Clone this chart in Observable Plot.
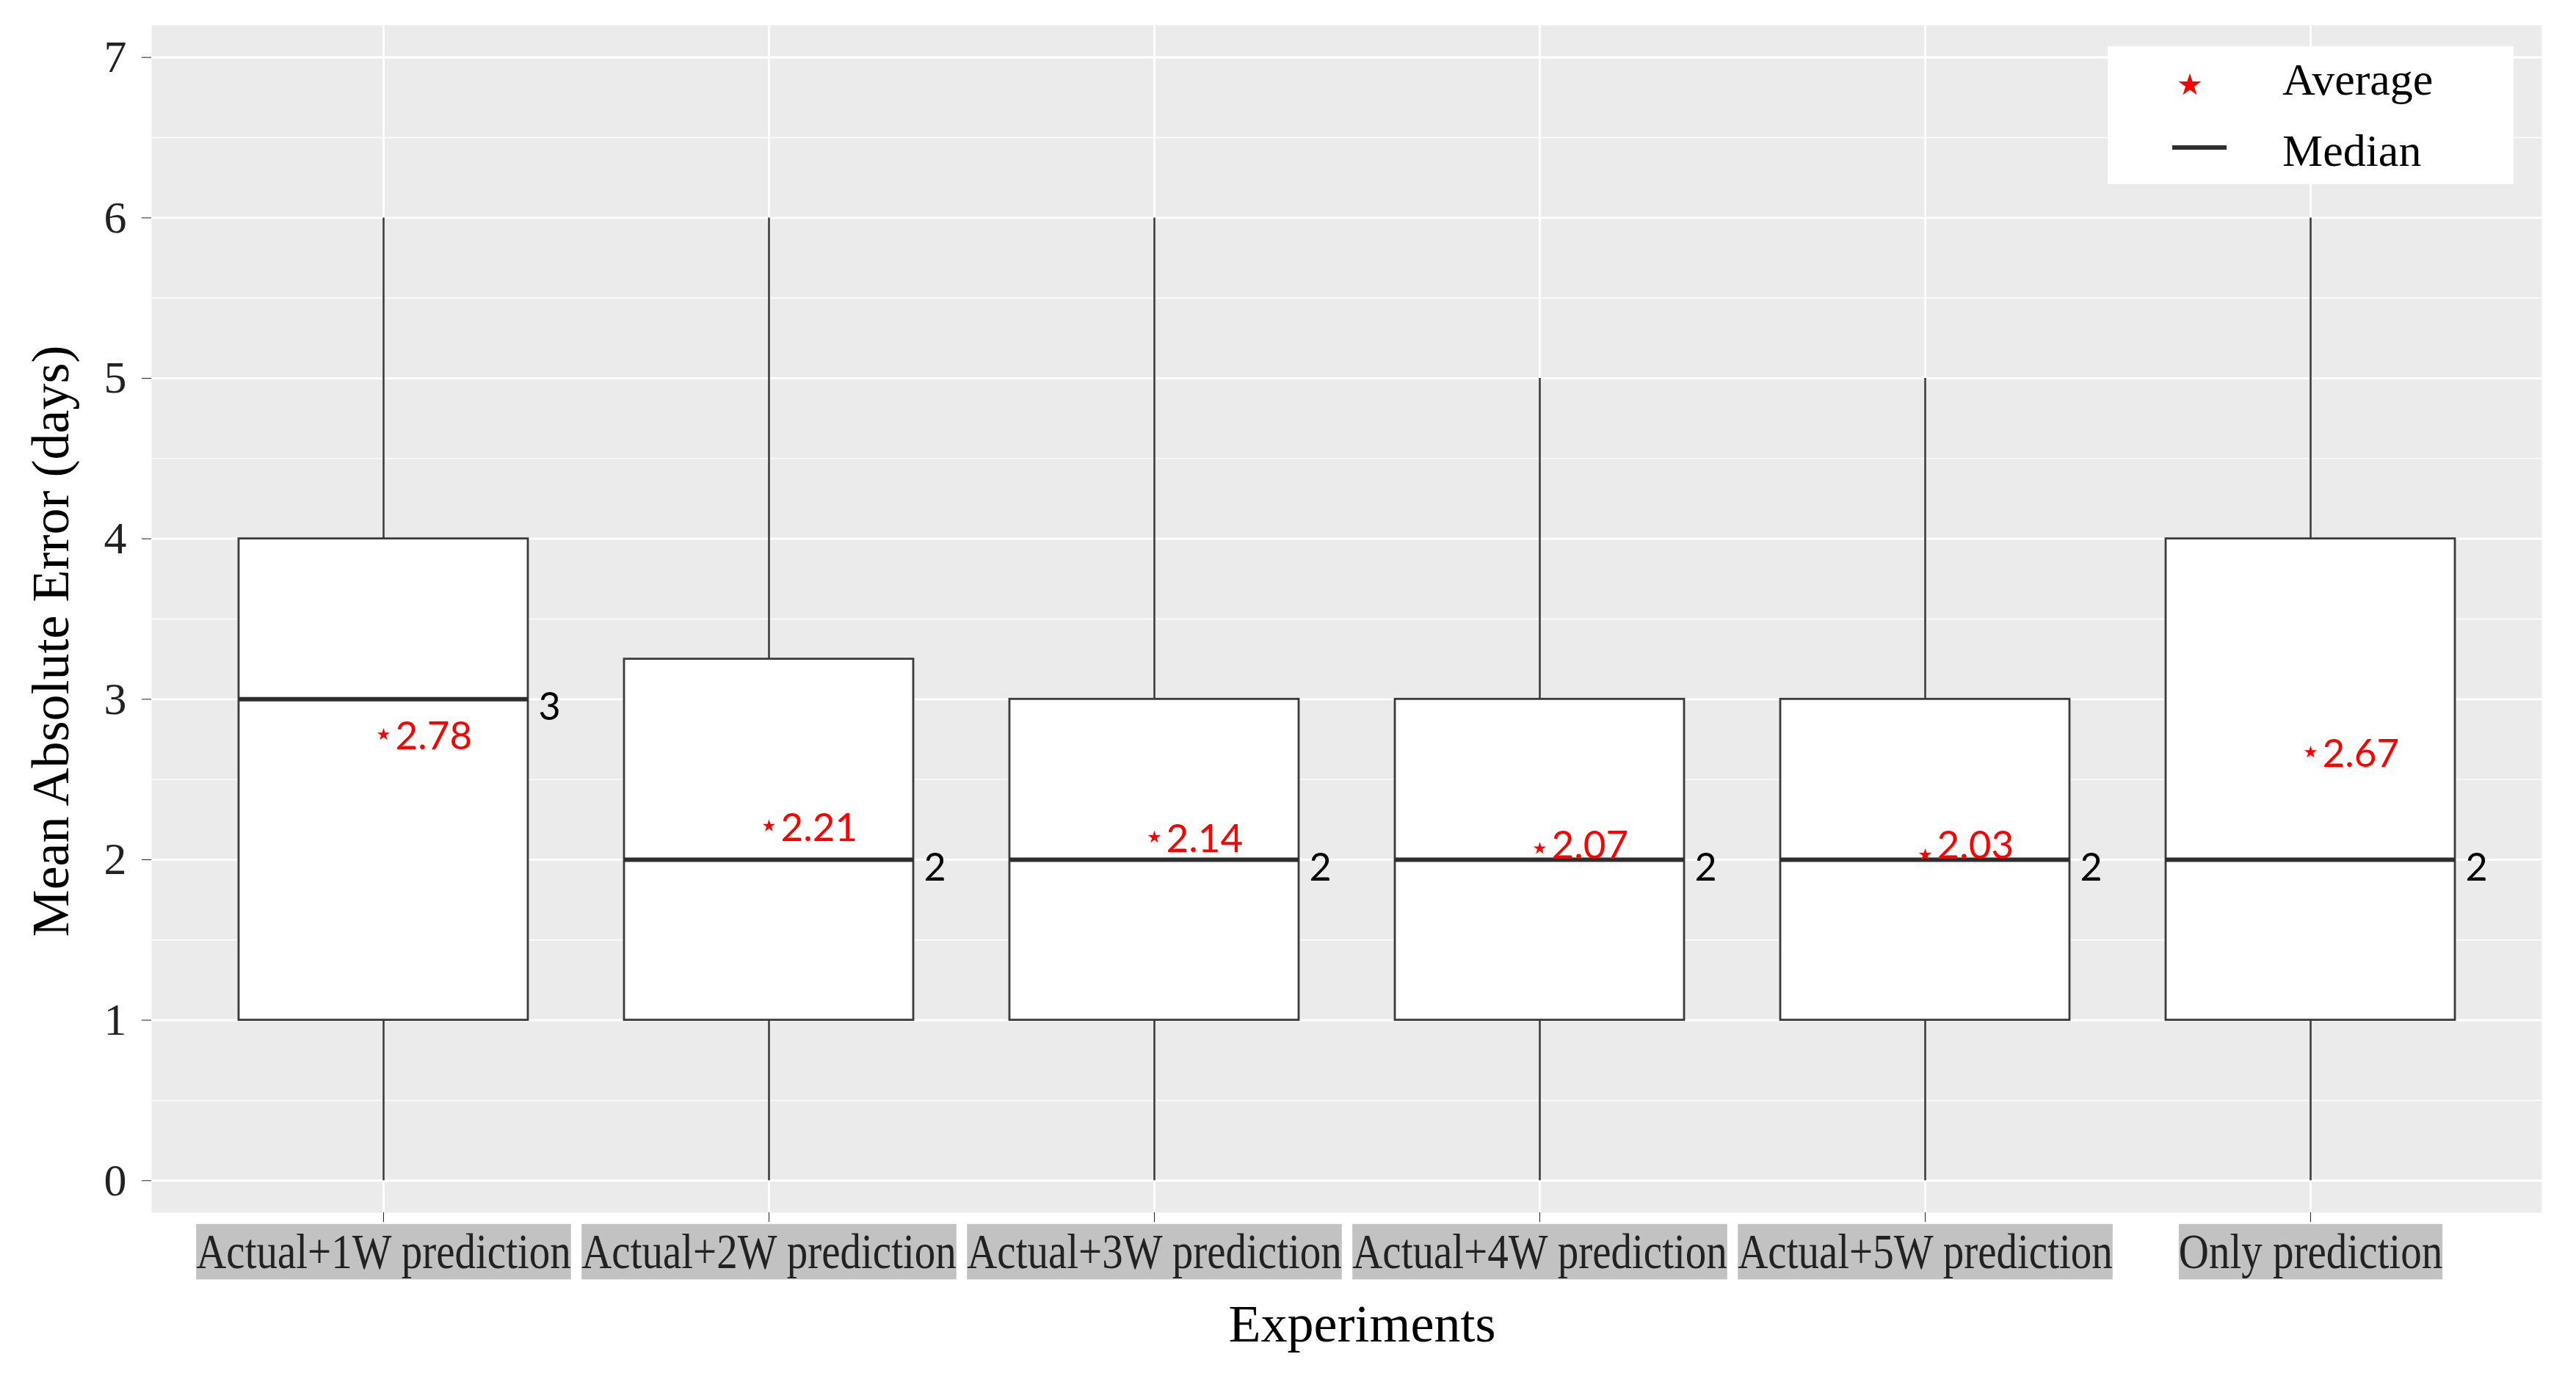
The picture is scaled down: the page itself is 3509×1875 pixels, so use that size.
<!DOCTYPE html>
<html>
<head>
<meta charset="utf-8">
<script src="https://cdn.jsdelivr.net/npm/d3@7"></script>
<script src="https://cdn.jsdelivr.net/npm/@observablehq/plot@0.6"></script>
<style>
  body { margin: 0; background: #fff; }
  #wrap { position: relative; width: 3509px; height: 1875px; }
  #legend { position: absolute; left: 2871px; top: 63px; width: 553px; height: 188px; background: #fff; }
</style>
</head>
<body>
<div id="wrap"><div id="chart"></div><div id="legend"></div></div>
<script>
// ---- data ----
const categories = ["Actual+1W prediction", "Actual+2W prediction", "Actual+3W prediction",
                    "Actual+4W prediction", "Actual+5W prediction", "Only prediction"];
const minVals    = [0, 0, 0, 0, 0, 0];
const q1Vals     = [1, 1, 1, 1, 1, 1];
const medianVals = [3, 2, 2, 2, 2, 2];
const q3Vals     = [4, 3.25, 3, 3, 3, 4];
const maxVals    = [6, 6, 6, 5, 5, 6];
const meanVals   = [2.78, 2.21, 2.14, 2.07, 2.03, 2.67];
const yTicks     = [0, 1, 2, 3, 4, 5, 6, 7];
const yMinorTicks = [0.5, 1.5, 2.5, 3.5, 4.5, 5.5, 6.5];
const xTitle = "Experiments";
const yTitle = "Mean Absolute Error (days)";
const legendItems = ["Average", "Median"];

// ---- layout ----
const W = 3509, H = 1875;
const ML = 206, MR = 47, MT = 34, MB = 223;
const padInner = 0.25, padOuter = 0.225;
const step = (W - ML - MR) / (categories.length - padInner + 2 * padOuter);
const bw = step * (1 - padInner);

const rows = categories.map((c, i) => {
  const mean = meanVals[i], med = medianVals[i];
  // keep the average label clear of the median line (repel-like nudge)
  const labelY = (mean > med && mean - med < 0.1) ? med + 0.1 : mean;
  return { cat: c, min: minVals[i], q1: q1Vals[i], med, q3: q3Vals[i], max: maxVals[i], mean, labelY };
});

const serif = "'Liberation Serif', 'Times New Roman', serif";
const sans = "Lato, 'Noto Sans', sans-serif";

const chart = Plot.plot({
  width: W, height: H,
  marginLeft: ML, marginRight: MR, marginTop: MT, marginBottom: MB,
  style: { background: "transparent", overflow: "visible", color: "#111" },
  x: { type: "band", domain: categories, paddingInner: padInner, paddingOuter: padOuter, axis: null },
  y: { domain: [-0.2, 7.2], axis: null },
  marks: [
    Plot.frame({ fill: "#ebebeb", stroke: null }),
    Plot.ruleY(yMinorTicks, { stroke: "#fff", strokeWidth: 1.4 }),
    Plot.ruleY(yTicks, { stroke: "#fff", strokeWidth: 2.8 }),
    Plot.ruleX(categories, { stroke: "#fff", strokeWidth: 2.8 }),
    Plot.axisY({ ticks: yTicks, tickSize: 13, tickPadding: 21, fontSize: 62, fontFamily: serif, label: null, color: "#222" }),
    Plot.axisX({ tickSize: 13, tickPadding: 15, fontSize: 57, fontFamily: serif, label: null, color: "#222" }),
    // whiskers
    Plot.ruleX(rows, { x: "cat", y1: "min", y2: "q1", stroke: "#3a3a3a", strokeWidth: 2.6 }),
    Plot.ruleX(rows, { x: "cat", y1: "q3", y2: "max", stroke: "#3a3a3a", strokeWidth: 2.6 }),
    // boxes
    Plot.barY(rows, { x: "cat", y1: "q1", y2: "q3", fill: "#fff", stroke: "#3a3a3a", strokeWidth: 2.8 }),
    // medians
    Plot.tickY(rows, { x: "cat", y: "med", stroke: "#2e2e2e", strokeWidth: 6 }),
    Plot.text(rows, { x: "cat", y: "med", text: d => String(d.med), dx: bw / 2 + 14, dy: 12,
      textAnchor: "start", lineAnchor: "middle", fontSize: 52, fontFamily: sans, fill: "#000" }),
    // means
    Plot.dot(rows, { x: "cat", y: "mean", symbol: "star", r: 5.4, fill: "#ff0000", stroke: null }),
    Plot.text(rows, { x: "cat", y: "labelY", text: d => d.mean.toFixed(2), dx: 16, dy: 3,
      textAnchor: "start", lineAnchor: "middle", fontSize: 53, fontFamily: sans, fill: "#ff0000" }),
    // titles
    Plot.text([xTitle], { text: d => d, frameAnchor: "bottom", dx: 21, dy: 152, lineAnchor: "middle",
      textAnchor: "middle", fontSize: 72, fontFamily: serif, fill: "#000" }),
    Plot.text([yTitle], { text: d => d, frameAnchor: "left", dx: -137, dy: 30, rotate: -90, lineAnchor: "middle",
      textAnchor: "middle", fontSize: 72, fontFamily: serif, fill: "#000" })
  ]
});

document.getElementById("chart").appendChild(chart);

// grey highlight boxes behind the x tick labels (slightly stretched text)
const svg = d3.select(chart);
svg.selectAll('g[aria-label="x-axis tick label"] text').each(function () {
  const t = d3.select(this);
  const tr = (t.attr("transform") || "") + " scale(1,1.18)";
  t.attr("transform", tr);
  const bb = this.getBBox();
  const r = document.createElementNS("http://www.w3.org/2000/svg", "rect");
  r.setAttribute("x", bb.x);
  r.setAttribute("y", bb.y);
  r.setAttribute("width", bb.width);
  r.setAttribute("height", bb.height);
  r.setAttribute("fill", "#c2c2c2");
  r.setAttribute("transform", tr);
  this.parentNode.insertBefore(r, this);
});

// legend
const lg = d3.select("#legend").append("svg").attr("width", 553).attr("height", 188);
lg.append("path")
  .attr("d", d3.symbol(d3.symbolStar, 300)())
  .attr("transform", "translate(112,53)")
  .attr("fill", "#ff0000");
lg.append("line").attr("x1", 88).attr("x2", 162).attr("y1", 138).attr("y2", 138)
  .attr("stroke", "#2e2e2e").attr("stroke-width", 6);
lg.selectAll("text").data(legendItems).join("text")
  .attr("x", 238).attr("y", (d, i) => i === 0 ? 44 : 141)
  .attr("dy", "0.35em")
  .attr("font-family", serif).attr("font-size", 62).attr("fill", "#000")
  .text(d => d);
</script>
</body>
</html>
